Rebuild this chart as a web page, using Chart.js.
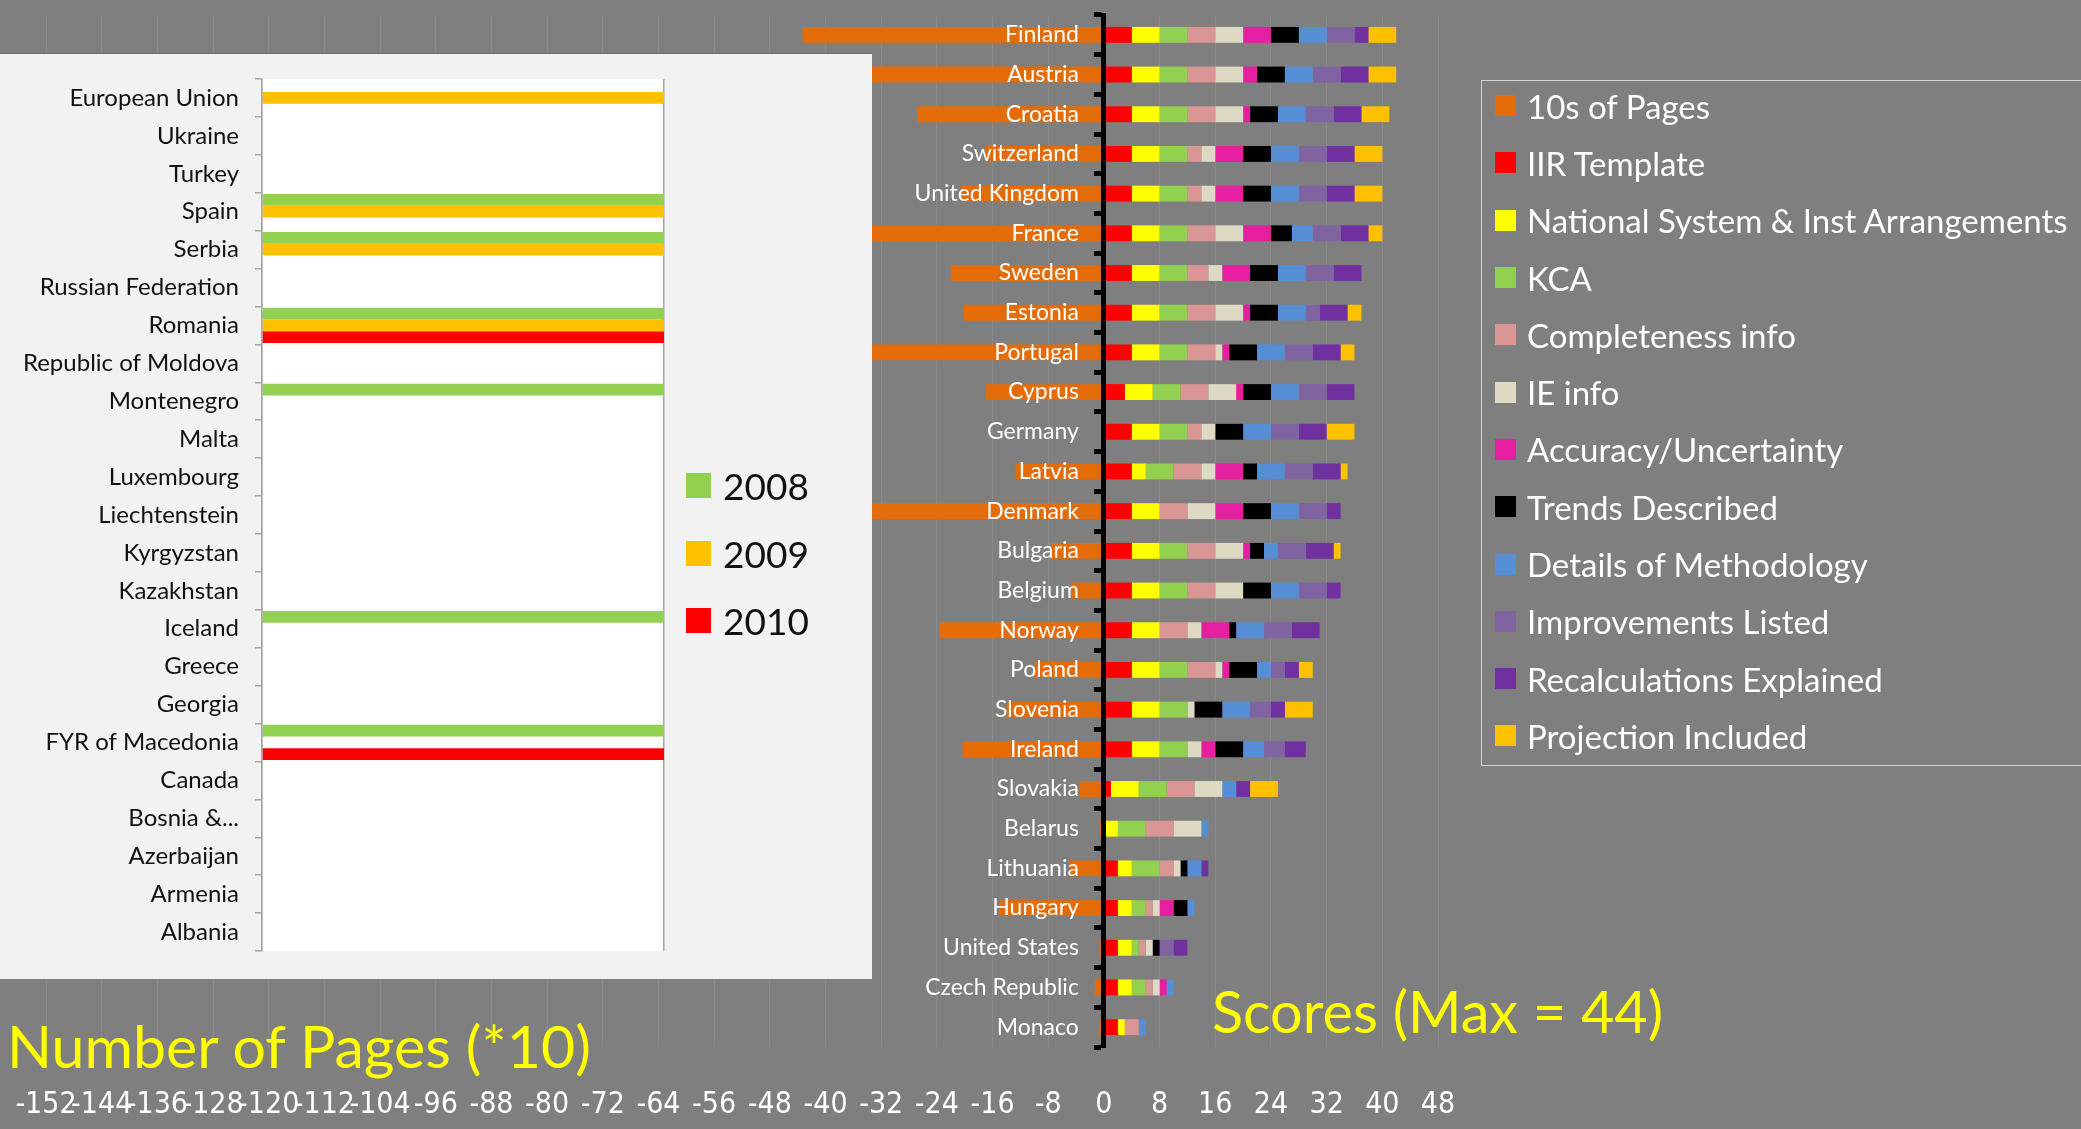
<!DOCTYPE html>
<html>
<head>
<meta charset="utf-8">
<script src="https://cdn.jsdelivr.net/npm/chart.js@4.4.1/dist/chart.umd.min.js"></script>
<style>
    html, body { margin: 0; padding: 0; background: #7f7f7f; overflow: hidden; }
    body { width: 2081px; height: 1129px; position: relative; font-family: Lato, 'Open Sans', sans-serif; }
    #chart-scores { position: absolute; left: 0; top: 0; }
    #inset { position: absolute; left: 0; top: 53px; width: 872px; height: 926px; background: #f2f2f2; border-top: 1px solid #6b6b6b; box-sizing: border-box; }
    #chart-years { position: absolute; left: 0; top: 0; }
    #legend-years { position: absolute; left: 686px; top: 398px; }
    #legend-years div { height: 67.5px; display: flex; align-items: center; font-size: 37px; color: #111; }
    #legend-years span { width: 25px; height: 25px; margin-right: 12px; display: inline-block; }
    #legend-scores { position: absolute; left: 1481px; top: 80px; width: 640px; height: 686px; border: 1.5px solid #d4d4d4; box-sizing: border-box; }
    #legend-scores .list { position: absolute; left: 0; top: -4px; }
    #legend-scores .item { height: 57.3px; display: flex; align-items: center; font-size: 33px; color: #fff; white-space: nowrap; }
    #legend-scores span { width: 21px; height: 21px; margin-left: 13px; margin-right: 11px; display: inline-block; }
    .title { position: absolute; color: #ffff00; font-size: 58px; line-height: 58px; white-space: nowrap; transform-origin: left center; }
</style>
</head>
<body>
<canvas id="chart-scores" width="2081" height="1129"></canvas>
<div id="inset">
    <canvas id="chart-years" width="872" height="924"></canvas>
    <div id="legend-years"></div>
</div>
<div id="legend-scores"><div class="list"></div></div>
<div class="title" id="title-pages" data-w="584" style="left:7px; top:1017px;">Number of Pages (*10)</div>
<div class="title" id="title-scores" data-w="451" style="left:1212px; top:982px;">Scores (Max = 44)</div>

<script>
// main chart: countries top to bottom
const countries = ['Finland', 'Austria', 'Croatia', 'Switzerland', 'United Kingdom', 'France', 'Sweden',
    'Estonia', 'Portugal', 'Cyprus', 'Germany', 'Latvia', 'Denmark', 'Bulgaria', 'Belgium', 'Norway',
    'Poland', 'Slovenia', 'Ireland', 'Slovakia', 'Belarus', 'Lithuania', 'Hungary', 'United States',
    'Czech Republic', 'Monaco'];

const seriesNames = ['10s of Pages', 'IIR Template', 'National System & Inst Arrangements', 'KCA',
    'Completeness info', 'IE info', 'Accuracy/Uncertainty', 'Trends Described', 'Details of Methodology',
    'Improvements  Listed', 'Recalculations Explained', 'Projection Included'];
const seriesColors = ['#e36c09', '#ff0000', '#ffff00', '#92d050', '#d99694', '#ddd9c3', '#e61fa0',
    '#000000', '#558ed5', '#8064a2', '#7030a0', '#ffc000'];

const pages        = [-43.3, -90, -26.8, -17, -20.5, -120, -22, -20.2, -70, -17, 0, -12.7, -150, -7.6, -4.7, -23.6, -10, -14, -20.3, -3.5, -0.6, -5, -15, -0.6, -1.3, -0.6];
const iirTemplate  = [4, 4, 4, 4, 4, 4, 4, 4, 4, 3, 4, 4, 4, 4, 4, 4, 4, 4, 4, 1, 0, 2, 2, 2, 2, 2];
const nationalSys  = [4, 4, 4, 4, 4, 4, 4, 4, 4, 4, 4, 2, 4, 4, 4, 4, 4, 4, 4, 4, 2, 2, 2, 2, 2, 1];
const kca          = [4, 4, 4, 4, 4, 4, 4, 4, 4, 4, 4, 4, 0, 4, 4, 0, 4, 4, 4, 4, 4, 4, 2, 1, 2, 0];
const completeness = [4, 4, 4, 2, 2, 4, 3, 4, 4, 4, 2, 4, 4, 4, 4, 4, 4, 0, 0, 4, 4, 2, 1, 1, 1, 2];
const ieInfo       = [4, 4, 4, 2, 2, 4, 2, 4, 1, 4, 2, 2, 4, 4, 4, 2, 1, 1, 2, 4, 4, 1, 1, 1, 1, 0];
const accuracy     = [4, 2, 1, 4, 4, 4, 4, 1, 1, 1, 0, 4, 4, 1, 0, 4, 1, 0, 2, 0, 0, 0, 2, 0, 1, 0];
const trends       = [4, 4, 4, 4, 4, 3, 4, 4, 4, 4, 4, 2, 4, 2, 4, 1, 4, 4, 4, 0, 0, 1, 2, 1, 0, 0];
const methodology  = [4, 4, 4, 4, 4, 3, 4, 4, 4, 4, 4, 4, 4, 2, 4, 4, 2, 4, 3, 2, 1, 2, 1, 0, 1, 1];
const improvements = [4, 4, 4, 4, 4, 4, 4, 2, 4, 4, 4, 4, 4, 4, 4, 4, 2, 3, 3, 0, 0, 0, 0, 2, 0, 0];
const recalcs      = [2, 4, 4, 4, 4, 4, 4, 4, 4, 4, 4, 4, 2, 4, 2, 4, 2, 2, 3, 2, 0, 1, 0, 2, 0, 0];
const projections  = [4, 4, 4, 4, 4, 2, 0, 2, 2, 0, 4, 1, 0, 1, 0, 0, 2, 4, 0, 4, 0, 0, 0, 0, 0, 0];

const xMin = -152, xMax = 48, xStep = 8;

// inset chart
const insetCountries = ['European Union', 'Ukraine', 'Turkey', 'Spain', 'Serbia', 'Russian Federation',
    'Romania', 'Republic of Moldova', 'Montenegro', 'Malta', 'Luxembourg', 'Liechtenstein', 'Kyrgyzstan',
    'Kazakhstan', 'Iceland', 'Greece', 'Georgia', 'FYR of Macedonia', 'Canada', 'Bosnia &...',
    'Azerbaijan', 'Armenia', 'Albania'];
const years = ['2008', '2009', '2010'];
const yearColors = ['#92d050', '#ffc000', '#ff0000'];
const sub2008 = [0, 0, 0, 1, 1, 0, 1, 0, 1, 0, 0, 0, 0, 0, 1, 0, 0, 1, 0, 0, 0, 0, 0];
const sub2009 = [1, 0, 0, 1, 1, 0, 1, 0, 0, 0, 0, 0, 0, 0, 0, 0, 0, 0, 0, 0, 0, 0, 0];
const sub2010 = [0, 0, 0, 0, 0, 0, 1, 0, 0, 0, 0, 0, 0, 0, 0, 0, 0, 1, 0, 0, 0, 0, 0];

const FONT = 'Lato, "Open Sans", sans-serif';
const NARROW = '"Liberation Sans Narrow", "DejaVu Sans Condensed", Lato, sans-serif';

const plotBg = {
    id: 'plotBg',
    beforeDraw(chart, args, opts) {
        if (!opts.color) return;
        const { ctx, chartArea: a } = chart;
        ctx.save();
        ctx.fillStyle = opts.color;
        ctx.fillRect(a.left, a.top, a.right - a.left, a.bottom - a.top);
        ctx.restore();
    }
};

// keep the axes from pushing the plot area in
function noPad(s) {
    s.paddingTop = 0;
    s.paddingBottom = 0;
    s.paddingLeft = 0;
    s.paddingRight = 0;
}

function renderScores() {
    const all = [pages, iirTemplate, nationalSys, kca, completeness, ieInfo, accuracy, trends,
        methodology, improvements, recalcs, projections];

    new Chart(document.getElementById('chart-scores'), {
        type: 'bar',
        data: {
            labels: countries,
            datasets: all.map((d, i) => ({
                label: seriesNames[i],
                data: d,
                backgroundColor: seriesColors[i],
                borderWidth: 0,
                categoryPercentage: 0.4,
                barPercentage: 1
            }))
        },
        options: {
            indexAxis: 'y',
            responsive: false,
            animation: false,
            layout: { padding: { left: 46, right: 643, top: 15, bottom: 10 } },
            plugins: { legend: { display: false }, tooltip: { enabled: false } },
            scales: {
                x: {
                    type: 'linear',
                    stacked: true,
                    min: xMin,
                    max: xMax,
                    ticks: { stepSize: xStep, autoSkip: false, maxRotation: 0, minRotation: 0,
                        color: '#fff', padding: 40, font: { family: NARROW, size: 30 } },
                    grid: { color: 'rgba(255,255,255,0.09)', drawTicks: false },
                    border: { display: false },
                    afterFit: s => { s.height = 72; noPad(s); }
                },
                // axis line and tick marks at zero
                y: {
                    stacked: true,
                    position: { x: 0 },
                    ticks: { display: false },
                    grid: { z: 1, drawOnChartArea: false, drawTicks: true, tickLength: 7, tickColor: '#000',
                        tickWidth: 5, offset: true },
                    border: { z: 1, color: '#000', width: 5 },
                    afterFit: noPad
                },
                // country names, right-aligned just left of the zero line
                yNames: {
                    type: 'category',
                    axis: 'y',
                    offset: true,
                    position: { x: -3.6 },
                    ticks: { z: 1, color: '#fff', autoSkip: false, font: { family: FONT, size: 23 } },
                    grid: { display: false, offset: true },
                    border: { display: false },
                    afterFit: noPad
                }
            }
        }
    });

    const list = document.querySelector('#legend-scores .list');
    seriesNames.forEach((name, i) => {
        const row = document.createElement('div');
        row.className = 'item';
        row.innerHTML = `<span style="background:${seriesColors[i]}"></span>${name}`;
        list.appendChild(row);
    });
}

function renderYears() {
    const all = [sub2008, sub2009, sub2010];

    new Chart(document.getElementById('chart-years'), {
        type: 'bar',
        data: {
            labels: insetCountries,
            datasets: all.map((d, i) => ({
                label: years[i],
                data: d,
                backgroundColor: yearColors[i],
                borderWidth: 0,
                categoryPercentage: 0.93,
                barPercentage: 1
            }))
        },
        options: {
            indexAxis: 'y',
            responsive: false,
            animation: false,
            layout: { padding: { left: 0, right: 208, top: 25, bottom: 27 } },
            plugins: { legend: { display: false }, tooltip: { enabled: false }, plotBg: { color: '#ffffff' } },
            scales: {
                x: {
                    min: 0,
                    max: 1,
                    ticks: { display: false, stepSize: 1 },
                    grid: { color: '#a6a6a6', lineWidth: 1.5, drawTicks: false },
                    border: { display: false },
                    afterFit: s => { s.height = 0; }
                },
                y: {
                    ticks: { color: '#111', padding: 16, autoSkip: false, font: { family: FONT, size: 24 } },
                    grid: { drawOnChartArea: false, tickLength: 7, tickColor: '#a6a6a6', lineWidth: 1.5, offset: true },
                    border: { color: '#a6a6a6', width: 1.5 },
                    afterFit: s => { s.width = 262; noPad(s); }
                }
            }
        },
        plugins: [plotBg]
    });

    const leg = document.getElementById('legend-years');
    years.forEach((y, i) => {
        const row = document.createElement('div');
        row.innerHTML = `<span style="background:${yearColors[i]}"></span>${y}`;
        leg.appendChild(row);
    });
}

function fitTitles() {
    document.querySelectorAll('.title').forEach(el => {
        const target = +el.dataset.w;
        el.style.transform = `scaleX(${target / el.offsetWidth})`;
    });
}

renderScores();
renderYears();
fitTitles();
</script>
</body>
</html>
